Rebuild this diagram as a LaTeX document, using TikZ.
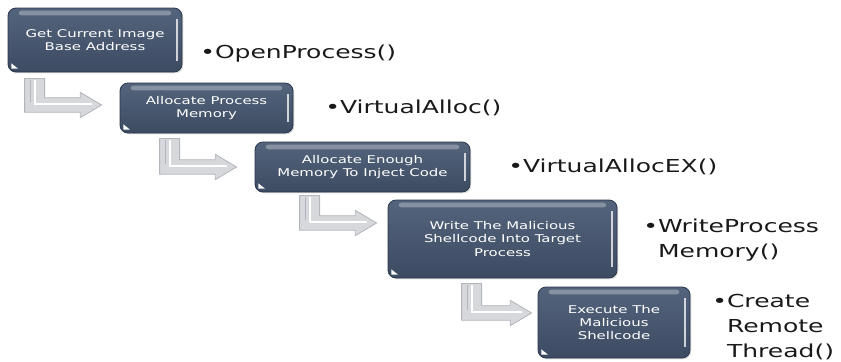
\documentclass[tikz,border=0pt]{standalone}
\usepackage{fontspec}
\newfontfamily\widesans[FakeStretch=1.4]{DejaVu Sans}
\usetikzlibrary{calc,shadows}
\definecolor{slatetop}{RGB}{84,100,124}
\definecolor{slatebot}{RGB}{60,75,98}
\definecolor{slateline}{RGB}{42,54,74}
\definecolor{arrowfill}{RGB}{214,216,220}
\definecolor{arrowedge}{RGB}{178,181,188}

\newcommand{\bentarrow}[2]{%
  \filldraw[bentshape] let \p1=(#1), \p2=(#2) in
    (\x1,\y1) -- (\x1+15pt,\y1) -- (\x1+15pt,\y2+5.5pt) -- (\x2-16pt,\y2+5.5pt)
    -- (\x2-16pt,\y2+9.5pt) -- (\x2,\y2) -- (\x2-16pt,\y2-9.5pt)
    -- (\x2-16pt,\y2-5.5pt) -- (\x1,\y2-5.5pt) -- cycle;
  \draw[white,line width=1.3pt] let \p1=(#1), \p2=(#2) in
    (\x1+8pt,\y1-1.5pt) -- (\x1+8pt,\y2+1pt) -- (\x2-7pt,\y2+1pt);
  \draw[arrowedge,line width=0.6pt] let \p1=(#1), \p2=(#2) in
    (\x1+4pt,\y1-1.5pt) -- (\x1+4pt,\y2+2pt);
}

\begin{document}
\begin{tikzpicture}[x=0.75pt,y=-0.75pt,
  stagebox/.style 2 args={rounded corners=6pt,draw=slateline,line width=0.6pt,
    top color=slatetop,bottom color=slatebot,text=white,align=center,
    font=\widesans\fontsize{8}{10}\selectfont,
    minimum width=#1*0.75pt,minimum height=#2*0.75pt,
    drop shadow={opacity=0.25,shadow xshift=1pt,shadow yshift=-1pt},
    path picture={
      \fill[white,opacity=0.3,rounded corners=2pt]
        ([xshift=8pt,yshift=-2pt]path picture bounding box.north west) rectangle
        ([xshift=-8pt,yshift=-5.5pt]path picture bounding box.north east);
      \fill[white,opacity=0.75,sharp corners]
        ([xshift=-4.5pt,yshift=-8pt]path picture bounding box.north east) rectangle
        ([xshift=-2.8pt,yshift=8pt]path picture bounding box.south east);
      \fill[white,sharp corners]
        ([xshift=2.5pt,yshift=2.5pt]path picture bounding box.south west) -- ++(5pt,0) -- ++(-5pt,4pt) -- cycle;
    }},
  apilabel/.style={anchor=base west,inner sep=0pt,align=left,text={rgb,255:red,25;green,25;blue,25},
    font=\widesans\fontsize{13.4}{18.4}\selectfont},
  bentshape/.style={fill=arrowfill,draw=arrowedge,line width=0.6pt,line join=round}]
  \useasboundingbox (0,0) rectangle (841,361);

  \node[stagebox={174}{64}] (getbase) at (95,40) {Get Current Image\\Base Address};
  \node[stagebox={173}{50}] (allocproc) at (206.5,108) {Allocate Process\\Memory};
  \node[stagebox={215}{50}] (allocinj) at (362.5,167) {Allocate Enough\\Memory To Inject Code};
  \node[stagebox={229}{78}] (writecode) at (502.5,239) {Write The Malicious\\Shellcode Into Target\\Process};
  \node[stagebox={152}{71}] (execcode) at (614,322.5) {Execute The\\Malicious\\Shellcode};

  \coordinate (s1) at ($(getbase.south west)+(17,6)$);
  \coordinate (t1) at ($(allocproc.west)+(-18,-3)$);
  \coordinate (s2) at ($(allocproc.south west)+(40,5)$);
  \coordinate (t2) at ($(allocinj.west)+(-18,0)$);
  \coordinate (s3) at ($(allocinj.south west)+(45,3)$);
  \coordinate (t3) at ($(writecode.west)+(-11,-16)$);
  \coordinate (s4) at ($(writecode.south west)+(74,5)$);
  \coordinate (t4) at ($(execcode.west)+(-6,-9.5)$);
  \bentarrow{s1}{t1}
  \bentarrow{s2}{t2}
  \bentarrow{s3}{t3}
  \bentarrow{s4}{t4}

  % multi-line labels sit on the baseline of their last line
  \node[apilabel] (openproc) at (200,58) {•OpenProcess()};
  \node[apilabel] (valloc) at (325,113) {•VirtualAlloc()};
  \node[apilabel] (vallocex) at (508,172) {•VirtualAllocEX()};
  \node[apilabel] (wpm) at (643,257) {•WriteProcess\\\phantom{•}Memory()};
  \node[apilabel] (crt) at (712,357) {•Create\\\phantom{•}Remote\\\phantom{•}Thread()};
\end{tikzpicture}
\end{document}
